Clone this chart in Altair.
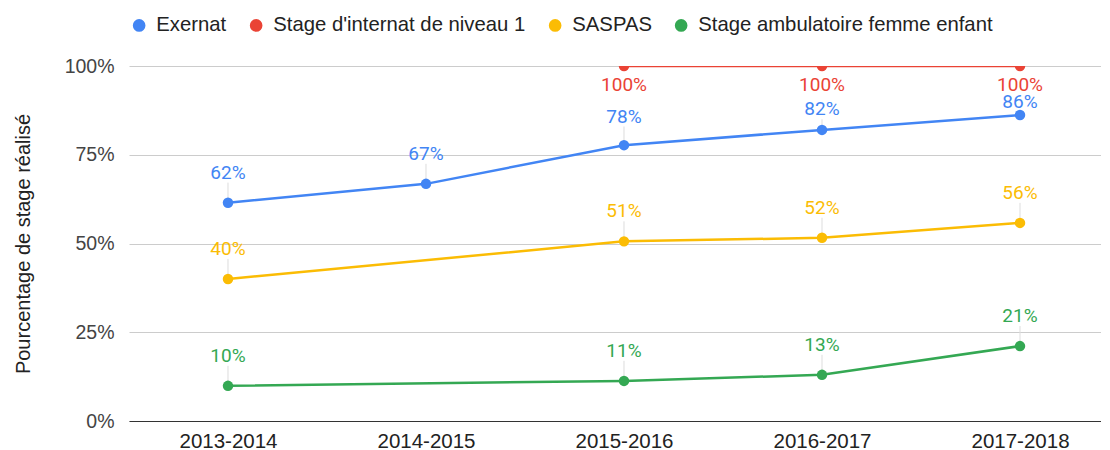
import altair as alt
import pandas as pd

years = ["2013-2014", "2014-2015", "2015-2016", "2016-2017", "2017-2018"]
series = ["Exernat", "Stage d'internat de niveau 1", "SASPAS", "Stage ambulatoire femme enfant"]
colors = ["#4285F4", "#EA4335", "#FBBC04", "#34A853"]
exernat = [61.5, 66.8, 77.7, 82.0, 86.2]
niveau1 = [None, None, 100.0, 100.0, 100.0]
saspas = [40.0, None, 50.6, 51.6, 55.8]
femme_enfant = [9.9, None, 11.3, 13.0, 21.1]

rows = []
for name, vals in zip(series, [exernat, niveau1, saspas, femme_enfant]):
    for yr, v in zip(years, vals):
        if v is not None:
            rows.append({"annee": yr, "serie": name, "valeur": v})
df = pd.DataFrame(rows)

AX = "Liberation Sans"
x = alt.X("annee:O", sort=years, scale=alt.Scale(type="point", padding=0.4545, align=0.55),
          axis=alt.Axis(title=None, labelAngle=0, labelFontSize=20.5, labelFont=AX,
                        labelColor="#222", ticks=False, domainColor="#333",
                        labelPadding=10, grid=False))
yscale = alt.Scale(domain=[0, 100], nice=False)
y = alt.Y("valeur:Q", scale=yscale,
          axis=alt.Axis(values=[0, 25, 50, 75, 100], labelExpr="datum.value + '%'",
                        gridColor="#cccccc", ticks=False, domain=False,
                        labelFontSize=19.5, labelFont=AX, labelColor="#444",
                        labelPadding=15, title="Pourcentage de stage réalisé",
                        titleFontSize=20, titleFont=AX, titleFontWeight="normal",
                        titleColor="#222", titlePadding=31))
legend = alt.Legend(title=None, orient="top", direction="horizontal",
                    labelFontSize=20.3, labelFont=AX, labelColor="#222",
                    symbolType="circle", symbolSize=160,
                    symbolStrokeWidth=0, columnPadding=19,
                    labelOffset=7, offset=30, labelLimit=400)
color = alt.Color("serie:N", scale=alt.Scale(domain=series, range=colors), legend=legend)

LBL = 'min(datum.valeur + 8.45, 85.9 + (datum.valeur - 78) * 0.47)'
base = alt.Chart(df).transform_calculate(
    label_pos=f'datum.serie == "{series[1]}" ? datum.valeur - 5.3 : {LBL}',
    stem_top=f'{LBL} - 2.8',
    label="round(datum.valeur) + '%'",
)

stems = base.transform_filter(f'datum.serie != "{series[1]}"').mark_rule(
    color="#dddddd", strokeWidth=1
).encode(x=x, y=alt.Y("valeur:Q", scale=yscale), y2="stem_top:Q")

lines = base.mark_line(strokeWidth=2.5, clip=True).encode(
    x=x, y=y, color=color, detail="serie:N")

points = base.mark_circle(size=110, opacity=1, clip=True).encode(
    x=x, y=alt.Y("valeur:Q", scale=yscale), color=color)

labels = base.mark_text(font="Roboto", fontSize=19, baseline="middle").encode(
    x=x, y=alt.Y("label_pos:Q", scale=yscale), text="label:N", color=color)

chart = alt.layer(stems, lines, points, labels).properties(
    width=972, height=355,
    padding={"left": 5, "top": 7, "right": 0, "bottom": 0},
).configure_view(stroke=None)

chart.save("out.html", embed_options={"renderer": "svg", "actions": False})
